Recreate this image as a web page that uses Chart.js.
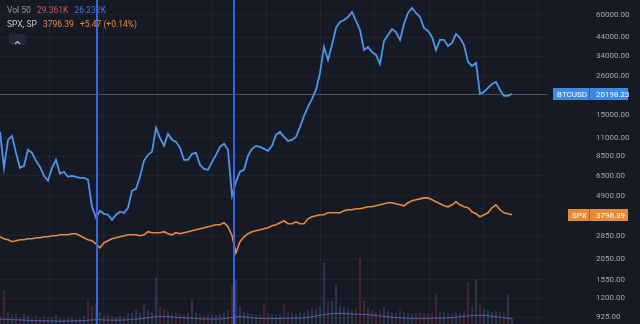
<!DOCTYPE html>
<html lang="en">
<head>
  <meta charset="UTF-8">
  <title>BTCUSD vs SPX</title>
  <script src="https://cdn.jsdelivr.net/npm/chart.js"></script>
  <style>
    html, body { margin: 0; padding: 0; background: #161a25; overflow: hidden; }
    #wrap { position: relative; width: 640px; height: 324px; }
    canvas { display: block; }
    .legend { position: absolute; left: 7px; font-family: Roboto, "Noto Sans", sans-serif; font-size: 8.5px; white-space: nowrap; }
    .legend span { margin-right: 4px; }
    #collapse { position: absolute; left: 9px; top: 34px; width: 17px; height: 11px; background: #242835; border-radius: 2px; }
  </style>
</head>
<body>
<div id="wrap">
  <canvas id="chart" width="640" height="324"></canvas>
  <div class="legend" style="top:5px">
    <span style="color:#9598a1">Vol 50</span>
    <span id="volNow" style="color:#c95a62"></span>
    <span id="volAvg" style="color:#4f6fd8"></span>
  </div>
  <div class="legend" style="top:19px">
    <span style="color:#c3c6ce">SPX, SP</span>
    <span id="spxNow" style="color:#e8893a"></span>
    <span id="spxChg" style="color:#e8893a"></span>
  </div>
  <div id="collapse">
    <svg width="17" height="11"><polyline points="6,7 8.5,4.5 11,7" fill="none" stroke="#c3c6ce" stroke-width="1.2"/></svg>
  </div>
</div>

<script>
// one point roughly every two weeks, Feb 2018 -> Oct 2022
const btc = [
  11940, 7260, 10690, 11290, 8930, 7260, 7470, 9310, 8930, 8000, 7360, 6510, 6080,
  7260, 8110, 6690, 6880, 6420, 6510, 6420, 6330, 6330, 6160, 4240, 3650, 4010,
  3850, 3800, 3545, 3800, 3960, 3900, 4180, 5290, 5430, 6420, 8000, 8690, 9060,
  12620, 10990, 9840, 11610, 10690, 10400, 9580, 8110, 8110, 8810, 8930, 7570, 7160,
  7070, 7890, 8690, 9710, 10120, 9310, 4950, 5990, 6880, 7070, 8570, 9440, 9840,
  9710, 9440, 9180, 9840, 11450, 11940, 11140, 10540, 10690, 11140, 12790, 14880, 16860,
  18820, 21310, 26950, 38580, 32240, 39660, 50150, 54470, 56000, 58370, 62540, 55230, 48780,
  37010, 38580, 36000, 34550, 30510, 41910, 45530, 49460, 47450, 42490, 52990, 61680, 66090,
  61680, 58370, 50150, 48110, 44290, 37010, 42490, 42490, 39120, 40770, 46160, 43680, 39660,
  31360, 29680, 30930, 20160, 20730, 21900, 23150, 23790, 21310, 19620, 19620, 20198.23
];
const spx = [
  2801, 2725, 2690, 2617, 2653, 2690, 2690, 2725, 2725, 2763, 2763, 2801, 2801,
  2841, 2841, 2880, 2880, 2880, 2924, 2924, 2841, 2763, 2690, 2653, 2545, 2406,
  2581, 2653, 2725, 2763, 2801, 2841, 2880, 2880, 2880, 2841, 2880, 3006, 2965,
  2965, 2965, 3006, 2924, 2880, 2965, 2924, 2965, 3006, 3048, 3090, 3132, 3176,
  3220, 3265, 3310, 3310, 3401, 3220, 2841, 2245, 2617, 2801, 2924, 3006, 3048,
  3090, 3132, 3176, 3265, 3310, 3401, 3496, 3355, 3355, 3448, 3355, 3355, 3594,
  3697, 3748, 3800, 3800, 3905, 3905, 3905, 3905, 4014, 4070, 4070, 4126, 4126,
  4183, 4241, 4241, 4300, 4360, 4419, 4481, 4481, 4419, 4360, 4300, 4481, 4606,
  4670, 4731, 4797, 4797, 4670, 4543, 4419, 4300, 4241, 4360, 4543, 4360, 4241,
  4183, 3959, 3851, 3697, 3800, 3905, 4183, 4360, 4070, 3905, 3851, 3796.39
];
// volume in K
const vol = [
  40, 175, 60, 45, 55, 35, 50, 40, 30, 45, 35, 40, 30,
  35, 45, 30, 25, 30, 35, 25, 30, 40, 125, 90, 105, 60,
  45, 50, 40, 35, 45, 40, 55, 60, 70, 55, 100, 70, 60,
  240, 90, 75, 65, 55, 60, 50, 45, 55, 125, 60, 50, 45,
  55, 50, 45, 50, 60, 70, 200, 230, 90, 60, 55, 50, 45,
  50, 100, 55, 50, 45, 50, 100, 60, 55, 50, 60, 55, 70,
  80, 75, 90, 320, 110, 120, 200, 95, 85, 80, 70, 80, 340,
  120, 80, 70, 60, 70, 85, 65, 60, 55, 70, 60, 55, 50,
  55, 60, 55, 50, 55, 150, 65, 60, 55, 50, 60, 55, 65,
  215, 90, 230, 100, 75, 70, 60, 65, 55, 60, 150, 29.361
];
const volMaIdx = [0, 4, 8, 12, 16, 20, 24, 28, 32, 36, 40, 44, 48, 52, 56, 60, 64,
  68, 72, 76, 80, 84, 88, 92, 96, 100, 104, 108, 112, 116, 120, 124, 128];
const volMa = [25, 22, 18, 16, 15, 17, 22, 20, 22, 30, 40, 35, 30, 26, 28, 38, 30,
  28, 30, 32, 45, 55, 52, 48, 40, 32, 28, 30, 32, 40, 45, 38, 26.232];

const yTicks = [60000, 44000, 34000, 26000, 15000, 11000, 8500, 6500, 4900, 2850, 2050, 1550, 1200, 925];
const xGrid = [12.25, 25.83, 39.4, 52.98, 66.55, 80.13, 93.7, 107.28, 120.85, 134.43];
const markers = [24.25, 58.5];   // vertical line drawings (Dec 2018, Mar 2020)
const spxChange = 5.47;

document.getElementById('volNow').textContent = vol[vol.length - 1].toFixed(3) + 'K';
document.getElementById('volAvg').textContent = volMa[volMa.length - 1].toFixed(3) + 'K';
document.getElementById('spxNow').textContent = spx[spx.length - 1].toFixed(2);
const prevSpx = spx[spx.length - 1] - spxChange;
document.getElementById('spxChg').textContent = '+' + spxChange.toFixed(2) + ' (+' + (spxChange / prevSpx * 100).toFixed(2) + '%)';

const BLUE = '#4d95ea';
const ORANGE = '#e8893a';

const pts = arr => arr.map((v, i) => ({ x: i, y: v }));

// no extra padding around the plot: it fills the canvas up to the price axis
const noPad = s => { s.paddingTop = 0; s.paddingBottom = 0; s.paddingLeft = 0; s.paddingRight = 0; };

const overlay = {
  id: 'overlay',
  beforeDatasetsDraw(chart) {
    const { ctx, chartArea: a, scales } = chart;
    const y = Math.round(scales.y.getPixelForValue(btc[btc.length - 1])) + 0.5;
    ctx.save();
    ctx.strokeStyle = 'rgba(180,185,200,0.35)';
    ctx.lineWidth = 1;
    ctx.beginPath(); ctx.moveTo(a.left, y); ctx.lineTo(a.right, y); ctx.stroke();
    ctx.restore();
  },
  afterDatasetsDraw(chart) {
    const { ctx, chartArea: a, scales } = chart;
    ctx.save();
    ctx.strokeStyle = '#3b63e0';
    ctx.lineWidth = 2;
    markers.forEach(m => {
      const x = Math.round(scales.x.getPixelForValue(m));
      ctx.beginPath(); ctx.moveTo(x, a.top); ctx.lineTo(x, a.bottom); ctx.stroke();
    });
    ctx.restore();
  },
  afterDraw(chart) {
    const { ctx, chartArea: a, scales } = chart;
    const tag = (name, value, color, boxLeft) => {
      const y = Math.round(scales.y.getPixelForValue(value));
      ctx.save();
      ctx.fillStyle = color;
      ctx.fillRect(a.right + boxLeft, y - 6, 80 - boxLeft, 12);
      ctx.fillStyle = 'rgba(0,0,0,0.25)';
      ctx.fillRect(a.right + 41, y - 6, 1, 12);
      ctx.fillStyle = '#ffffff';
      ctx.font = '8px Roboto, sans-serif';
      ctx.textBaseline = 'middle';
      ctx.fillText(name, a.right + boxLeft + 4, y + 0.5);
      ctx.fillText(value.toFixed(2), a.right + 48, y + 0.5);
      ctx.restore();
    };
    tag('BTCUSD', btc[btc.length - 1], '#3d8ae2', 5);
    tag('SPX', spx[spx.length - 1], '#e58a36', 20);
  }
};

new Chart(document.getElementById('chart'), {
  data: {
    datasets: [
      {
        type: 'line', label: 'BTCUSD', data: pts(btc), yAxisID: 'y',
        borderColor: BLUE, borderWidth: 1.8, pointRadius: 0, tension: 0, order: 0
      },
      {
        type: 'line', label: 'SPX', data: pts(spx), yAxisID: 'y',
        borderColor: ORANGE, borderWidth: 1.6, pointRadius: 0, tension: 0, order: 1
      },
      {
        type: 'line', label: 'Vol MA', data: volMaIdx.map((x, i) => ({ x, y: volMa[i] })), yAxisID: 'yv',
        borderColor: 'rgba(79,111,216,0.8)', borderWidth: 1, pointRadius: 0, tension: 0.4, order: 2
      },
      {
        type: 'bar', label: 'Vol', data: pts(vol), yAxisID: 'yv',
        backgroundColor: c => (c.dataIndex > 0 && btc[c.dataIndex] < btc[c.dataIndex - 1])
          ? 'rgba(200,80,90,0.3)' : 'rgba(120,140,170,0.3)',
        barThickness: 1, order: 3
      }
    ]
  },
  options: {
    responsive: false,
    animation: false,
    devicePixelRatio: 1,
    layout: { padding: 0, autoPadding: false },
    plugins: { legend: { display: false }, tooltip: { enabled: false } },
    scales: {
      x: {
        type: 'linear', min: 0, max: 137, offset: false,
        afterBuildTicks: s => { s.ticks = xGrid.map(v => ({ value: v })); },
        afterFit: s => { s.height = 0; noPad(s); },
        ticks: { display: false },
        border: { display: false },
        grid: { color: 'rgba(255,255,255,0.045)', drawTicks: false, offset: false }
      },
      y: {
        type: 'logarithmic', position: 'right', min: 840, max: 73810,
        afterBuildTicks: s => { s.ticks = yTicks.map(v => ({ value: v })); },
        afterFit: s => { s.width = 92; noPad(s); },
        ticks: {
          autoSkip: false, padding: 48, color: '#a3a6af',
          font: { family: 'Roboto', size: 8 },
          callback: v => Number(v).toFixed(2)
        },
        border: { display: false },
        grid: { color: 'rgba(255,255,255,0.045)', drawTicks: false, tickLength: 0 }
      },
      yv: { display: false, min: 0, max: 1685 }
    }
  },
  plugins: [overlay]
});
</script>
</body>
</html>
